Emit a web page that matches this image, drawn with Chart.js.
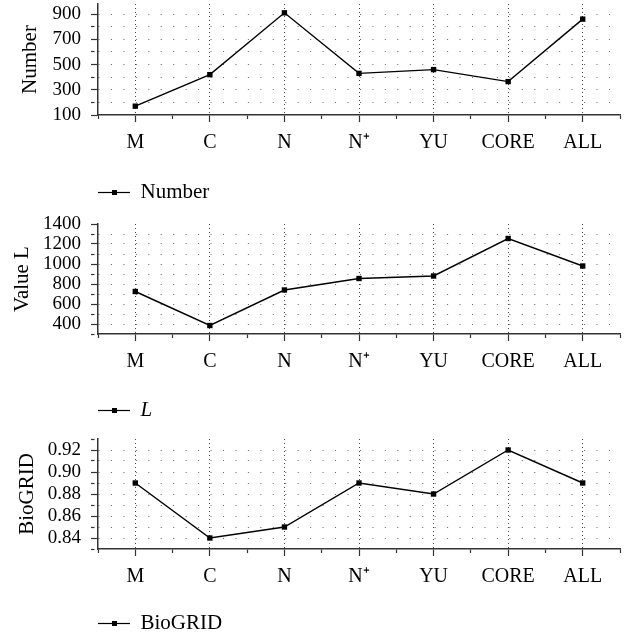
<!DOCTYPE html>
<html>
<head>
<meta charset="utf-8">
<script src="https://cdn.jsdelivr.net/npm/chart.js@4.4.0/dist/chart.umd.min.js"></script>
<style>
  html, body { margin: 0; padding: 0; background: #fff; overflow: hidden; }
  #wrap { position: relative; width: 624px; height: 636px; }
  canvas { position: absolute; left: 0; }
</style>
</head>
<body>
<div id="wrap">
  <canvas id="c1" width="624" height="213" style="top:0px"></canvas>
  <canvas id="c2" width="624" height="221" style="top:210px"></canvas>
  <canvas id="c3" width="624" height="215" style="top:429px"></canvas>
</div>
<script>
// categories + series
const categories = ['M', 'C', 'N', 'N⁺', 'YU', 'CORE', 'ALL'];
const numberValues = [170, 420, 910, 430, 460, 365, 860];
const lValues = [725, 385, 740, 855, 880, 1255, 980];
const biogridValues = [0.89, 0.84, 0.85, 0.89, 0.88, 0.92, 0.89];

// labelled y ticks
const numberTicks = [100, 300, 500, 700, 900];
const lTicks = [400, 600, 800, 1000, 1200, 1400];
const biogridTicks = [0.84, 0.86, 0.88, 0.90, 0.92];

const serif = "'Liberation Serif', 'Times New Roman', serif";

// legend symbol: short line with a square in the middle
const icon = document.createElement('canvas');
icon.width = 32; icon.height = 9;
const g = icon.getContext('2d');
g.strokeStyle = '#000'; g.lineWidth = 1.2;
g.beginPath(); g.moveTo(0, 4.5); g.lineTo(32, 4.5); g.stroke();
g.fillStyle = '#000'; g.fillRect(14, 2, 5, 5);

const same = (a, b) => Math.abs(a - b) < 1e-9;

function makeChart(id, o) {
    const labelled = v => o.ticks.some(t => same(t, v));
    new Chart(document.getElementById(id), {
        type: 'line',
        data: {
            datasets: [{
                label: o.label,
                data: o.values.map((v, i) => ({x: i, y: v})),
                borderColor: '#000',
                borderWidth: 1.4,
                pointStyle: 'rect',
                pointRadius: 3.8,
                pointBorderWidth: 0,
                pointBackgroundColor: '#000',
                tension: 0
            }]
        },
        options: {
            responsive: false,
            animation: false,
            layout: { padding: { top: o.padTop, right: 4, left: 0, bottom: 0 } },
            scales: {
                x: {
                    type: 'linear',
                    min: -0.5,
                    max: categories.length - 0.5,
                    afterBuildTicks: s => {
                        s.ticks = [];
                        for (let i = 0; i <= categories.length * 2; i++) s.ticks.push({value: -0.5 + i / 2});
                    },
                    afterFit: s => { s.height = o.xHeight; s.paddingLeft = 0; s.paddingRight = 0; },
                    ticks: {
                        autoSkip: false, maxRotation: 0, padding: 9, color: '#000',
                        font: { family: serif, size: 20 },
                        callback: v => Number.isInteger(v) ? categories[v] : ''
                    },
                    grid: {
                        color: c => Number.isInteger(c.tick.value) ? '#444' : 'rgba(0,0,0,0)',
                        lineWidth: 1,
                        tickLength: 7,
                        tickWidth: 1.2,
                        tickColor: '#333',
                        tickBorderDash: c => Number.isInteger(c.tick.value) ? [] : [3.5, 20]
                    },
                    border: { color: '#333', width: 1.5, dash: c => c.tick ? [1, 3] : [] }
                },
                y: {
                    min: o.min,
                    max: o.max,
                    afterBuildTicks: s => {
                        s.ticks = [];
                        const n = Math.floor((o.max - o.min) / o.step + 1e-6);
                        for (let i = 0; i <= n; i++) s.ticks.push({value: +(o.min + i * o.step).toFixed(6)});
                    },
                    afterFit: s => { s.width = 98; s.paddingTop = 0; s.paddingBottom = 0; },
                    ticks: {
                        autoSkip: false, padding: 10, color: '#000',
                        font: { family: serif, size: 19 },
                        callback: v => labelled(v) ? v.toFixed(o.decimals) : ''
                    },
                    grid: {
                        color: c => (same(c.tick.value, o.min) || same(c.tick.value, o.max)) ? 'rgba(0,0,0,0)' : '#666',
                        lineWidth: 1,
                        tickLength: 7,
                        tickWidth: 1.2,
                        tickColor: '#333',
                        tickBorderDash: c => labelled(c.tick.value) ? [] : [3.5, 20]
                    },
                    border: { color: '#333', width: 1.5, dash: c => c.tick ? [1, 11.45] : [] },
                    title: {
                        display: true, text: o.title, color: '#000',
                        font: { family: serif, size: 21 },
                        padding: { top: o.titlePad, bottom: 0 }
                    }
                }
            },
            plugins: {
                tooltip: { enabled: false },
                legend: {
                    position: 'bottom',
                    align: 'start',
                    fullSize: false,
                    labels: {
                        usePointStyle: true,
                        pointStyle: icon,
                        pointStyleWidth: 32,
                        padding: 0,
                        color: '#000',
                        font: { family: serif, size: 21, style: o.italic ? 'italic' : 'normal' }
                    }
                }
            }
        }
    });
}

makeChart('c1', { label: 'Number', title: 'Number', values: numberValues, ticks: numberTicks,
    min: 100, max: 980, step: 100, decimals: 0, padTop: 4, titlePad: 18, xHeight: 67 });
makeChart('c2', { label: 'L', italic: true, title: 'Value L', values: lValues, ticks: lTicks,
    min: 300, max: 1400, step: 100, decimals: 0, padTop: 14, titlePad: 10, xHeight: 66 });
makeChart('c3', { label: 'BioGRID', title: 'BioGRID', values: biogridValues, ticks: biogridTicks,
    min: 0.83, max: 0.93, step: 0.01, decimals: 2, padTop: 10, titlePad: 15, xHeight: 64 });
</script>
</body>
</html>
